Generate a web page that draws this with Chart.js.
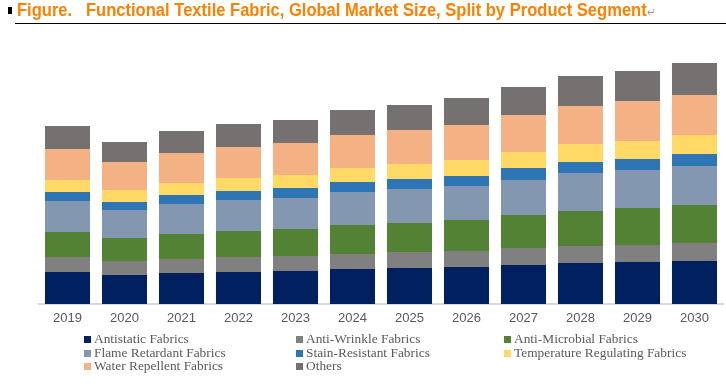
<!DOCTYPE html>
<html>
<head>
<meta charset="utf-8">
<script src="https://cdn.jsdelivr.net/npm/chart.js@4/dist/chart.umd.min.js"></script>
<style>
  html, body { margin: 0; padding: 0; background: #fff; }
  #wrap { position: relative; width: 726px; height: 388px; overflow: hidden; }
  #chart { position: absolute; left: 0; top: 0; }
  #bullet { position: absolute; left: 8px; top: 7px; width: 4px; height: 7px; background: #000; }
  #ttext { position: absolute; left: 17px; top: 0px; font-family: "Liberation Sans Narrow", "Liberation Sans", Arial, sans-serif;
           font-weight: bold; font-size: 18px; color: #FF8000; white-space: nowrap; transform-origin: left top; }
  #rule { position: absolute; left: 15px; right: 0; top: 23px; height: 1px; background: #000; }
  #legend { position: absolute; left: 0; top: 332px; width: 726px; font-family: "Liberation Serif", "Times New Roman", serif;
            font-size: 13.4px; color: #595959; }
  .li { position: absolute; white-space: nowrap; line-height: 14px; }
  .sw { display: inline-block; width: 7px; height: 7px; margin-right: 3px; vertical-align: 0px; }
</style>
</head>
<body>
<div id="wrap">
  <canvas id="chart" width="726" height="388"></canvas>
  <div id="bullet"></div>
  <div id="ttext">Figure.&nbsp;&nbsp;&nbsp;Functional Textile Fabric, Global Market Size, Split by Product Segment<span style="color:#9a9a9a;font-weight:normal;font-size:11px;">&#8629;</span></div>
  <div id="rule"></div>
  <div id="legend"></div>
</div>
<script>
const categories = ["2019","2020","2021","2022","2023","2024","2025","2026","2027","2028","2029","2030"];
const seriesNames = ["Antistatic Fabrics","Anti-Wrinkle Fabrics","Anti-Microbial Fabrics","Flame Retardant Fabrics",
                     "Stain-Resistant Fabrics","Temperature Regulating Fabrics","Water Repellent Fabrics","Others"];
const antistatic   = [32,29,31,32,33,35,36,37,39,41,42,43];
const antiWrinkle  = [15,14,14,15,15,15,16,16,17,17,17,18];
const antiMicrobial= [25,23,25,26,27,29,29,31,33,35,37,38];
const flameRetard  = [31,28,30,31,31,33,34,34,35,38,38,39];
const stainResist  = [9,8,9,9,10,10,10,10,12,11,11,12];
const tempRegul    = [12,12,12,13,13,14,15,16,16,18,18,19];
const waterRepel   = [31,28,30,31,32,33,34,35,37,38,40,40];
const others       = [23,20,22,23,23,25,25,27,28,30,30,32];
const seriesColors = ["#002060","#808080","#548235","#8497B0","#2E75B6","#FFD966","#F4B183","#767171"];

const seriesData = [antistatic, antiWrinkle, antiMicrobial, flameRetard, stainResist, tempRegul, waterRepel, others];

const datasets = seriesData.map((d, i) => ({
  label: seriesNames[i],
  data: d,
  backgroundColor: seriesColors[i],
  borderWidth: 0,
  barPercentage: 0.79,
  categoryPercentage: 1.0
}));

new Chart(document.getElementById('chart'), {
  type: 'bar',
  data: { labels: categories, datasets },
  options: {
    responsive: false,
    animation: false,
    layout: { padding: { left: 39, right: 3, top: 40, bottom: 54 } },
    plugins: { legend: { display: false }, tooltip: { enabled: false }, title: { display: false } },
    scales: {
      x: {
        stacked: true,
        grid: { display: false, drawTicks: false },
        border: { display: true, color: '#d9d9d9', width: 2 },
        ticks: { color: '#595959', font: { family: 'Liberation Sans, Arial, sans-serif', size: 13 }, padding: 7 },
        afterFit: (axis) => { axis.height = 30; }
      },
      y: {
        stacked: true, display: false, min: 0, max: 264
      }
    }
  }
});

// title width fit
const tt = document.getElementById('ttext');
const w = tt.getBoundingClientRect().width;
const target = 638;
tt.style.transform = 'scaleX(' + (target / w) + ')';

// legend
const lg = document.getElementById('legend');
const colX = [84, 296, 504];
const rowY = [0, 14, 27];
seriesNames.forEach((name, i) => {
  const el = document.createElement('div');
  el.className = 'li';
  el.style.left = colX[i % 3] + 'px';
  el.style.top = rowY[Math.floor(i / 3)] + 'px';
  const sw = document.createElement('span');
  sw.className = 'sw';
  sw.style.background = seriesColors[i];
  el.appendChild(sw);
  el.appendChild(document.createTextNode(name));
  lg.appendChild(el);
});
</script>
</body>
</html>
